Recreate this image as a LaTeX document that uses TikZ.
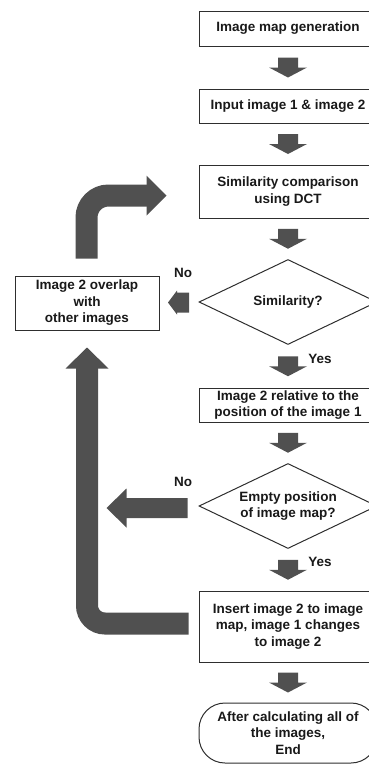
\documentclass[tikz,border=0pt]{standalone}
\usepackage{fontspec}
\setmainfont{Liberation Sans}
\usetikzlibrary{shapes.geometric,calc}
\definecolor{arr}{HTML}{505050}
\definecolor{edge}{HTML}{2E2E2E}
\begin{document}
\begin{tikzpicture}[x=1pt,y=-1pt,
  font=\fontsize{13.5}{16.5}\selectfont\bfseries,
  box/.style={draw=edge,line width=1pt,minimum width=178pt,align=center,inner sep=0pt,text=black!90},
  dia/.style={draw=edge,line width=1pt,shape=diamond,shape aspect=2.1,minimum width=178pt,minimum height=85pt,align=center,inner sep=0pt,text=black!90},
  term/.style={draw=edge,line width=1pt,rounded corners=26pt,minimum width=178pt,minimum height=60pt,align=center,inner sep=0pt,text=black!90},
  lbl/.style={inner sep=0pt,text=black!90},
  fatline/.style={draw=arr,line width=22pt,line cap=butt}]
\useasboundingbox (0,0) rectangle (368,764);
% main column
\node[box,minimum height=35pt] (b1) at (288,28.5) {Image map generation};
\node[box,minimum height=34pt] (b2) at (288,106) {Input image 1 \& image 2};
\node[box,minimum height=53pt] (b3) at (288,191.5) {Similarity comparison\\using DCT};
\node[dia] (d1) at (288,302) {Similarity?};
\node[box,minimum height=34pt] (b4) at (288,405) {Image 2 relative to the\\position of the image 1};
\node[dia] (d2) at (288,506) {Empty position\\of image map?};
\node[box,minimum height=71pt] (b5) at (288,626.5) {Insert image 2 to image\\map, image 1 changes\\to image 2};
\node[term] (fin) at (288,733) {After calculating all of\\the images,\\End};
\node[box,minimum width=144pt,minimum height=54pt] (L) at (87,303) {Image 2 overlap\\with\\other images};
% labels
\node[lbl] (no1) at (183,273) {No};
\node[lbl] (no2) at (183,482) {No};
\node[lbl] (yes1) at (320,359) {Yes};
\node[lbl] (yes2) at (320,562) {Yes};
% down block arrows
\coordinate (m1) at ($(b1.south)!0.5!(b2.north)$);
\coordinate (m2) at ($(b2.south)!0.5!(b3.north)$);
\coordinate (m3) at ($(b3.south)!0.5!(d1.north)$);
\coordinate (m4) at ($(d1.south)!0.5!(b4.north)$);
\coordinate (m5) at ($(b4.south)!0.5!(d2.north)$);
\coordinate (m6) at ($(d2.south)!0.5!(b5.north)$);
\coordinate (m7) at ($(b5.south)!0.5!(fin.north)$);
\foreach \m in {m1,m2,m3,m4,m5,m6,m7}{
  \fill[arr,shift={(\m)}] (-10,-10) -- (10,-10) -- (10,0) -- (19,0) -- (0,10) -- (-19,0) -- (-10,0) -- cycle;
}
% small No arrow
\coordinate (mL) at ($(L.east)!0.5!(d1.west)$);
\fill[arr,shift={(mL)}] (10,-10) -- (-2,-10) -- (-2,-12) -- (-11,0) -- (-2,12) -- (-2,10) -- (10,10) -- cycle;
% big No arrow
\coordinate (n2s) at ($(d2.west)+(-11,2)$);
\fill[arr,shift={(n2s)}] (0,-10) -- (-61,-10) -- (-61,-19.5) -- (-81,0) -- (-61,19.5) -- (-61,10) -- (0,10) -- cycle;
% U loop back up to left box
\coordinate (u0) at ($(b5.west)+(-10,-3)$);
\coordinate (u2) at ($(L.south)+(0,37)$);
\draw[fatline,rounded corners=18pt] (u0) -- (u0 -| L.south) -- (u2);
\fill[arr] ($(L.south)+(-21.5,38)$) -- ($(L.south)+(21.5,38)$) -- ($(L.south)+(0,17)$) -- cycle;
% bent arrow from left box to similarity comparison
\coordinate (v0) at ($(L.north)+(-0.5,-17)$);
\coordinate (v2) at ($(b3.west)+(-51,4)$);
\draw[fatline,rounded corners=22pt] (v0) -- (v0 |- v2) -- (v2);
\fill[arr] ($(v2)+(-1,-20)$) -- ($(v2)+(-1,20)$) -- ($(v2)+(19,0)$) -- cycle;
\end{tikzpicture}
\end{document}
